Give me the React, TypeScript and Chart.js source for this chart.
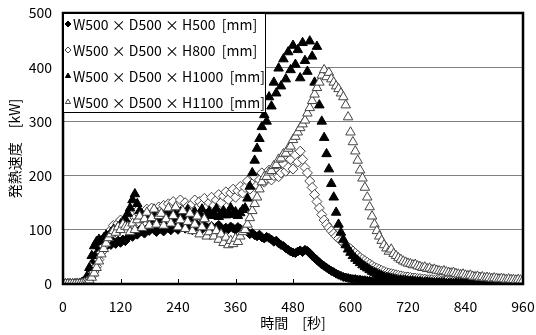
import React, { useEffect, useRef } from "react";
import { Chart, registerables } from "chart.js";

Chart.register(...registerables);

const FONT = '"Noto Sans CJK JP", "Noto Sans", sans-serif';

// time grid (seconds), 5 s sampling from 0 to 960
const TIME_STEP = 5;
const X_TICKS = [0, 120, 240, 360, 480, 600, 720, 840, 960];
const Y_TICKS = [0, 100, 200, 300, 400, 500];

const SERIES_LABELS = [
  "W500 × D500 × H500  [mm]",
  "W500 × D500 × H800  [mm]",
  "W500 × D500 × H1000  [mm]",
  "W500 × D500 × H1100  [mm]",
];

const H500 = [
  0, 0, 0, 0, 0, 0, 0, 1, 2,
  3, 6, 12, 25,
  42, 56, 66, 70,
  72, 69, 75, 72, 78, 74, 80, 76, 82, 79,
  85, 90, 87, 95, 91, 100, 97, 93, 102, 98, 105, 100, 96, 104,
  101, 97, 106, 103, 99, 108, 104, 100, 110, 105, 102, 107, 103, 99, 106, 110, 104, 101, 108, 105,
  103, 107, 100, 105, 109, 102, 98, 104, 101, 106, 103, 100, 105, 102, 99,
  100, 96, 92, 94, 90, 88, 91, 86, 84,
  87, 85, 82, 78, 80, 75, 72, 70, 66, 63, 60, 58,
  57, 60, 62, 59, 63, 61, 57, 52, 48, 44,
  40, 36, 33, 30, 27, 24, 22, 19, 17, 15, 13, 12, 11, 10,
  9, 9, 8, 8, 7, 7, 6, 6, 5, 5, 5, 4, 4, 4, 3, 3, 3, 3, 2, 2,
  2, 2, 2, 2, 2, 1, 2, 1, 1, 1, 1, 1, 1, 1, 1, 1, 1, 0, 1, 0,
  0, 1, 0, 0, 0, 0, 0, 0, 0, 0, 0, 0, 0, 0, 0, 0, 0, 0, 0, 0,
  0, 0, 0, 0, 0, 0, 0, 0, 0, 0, 0, 0,
];

const H800 = [
  0, 0, 0, 0, 0, 0, 0, 1, 2,
  3, 5, 8, 14,
  22, 32, 45, 58,
  70, 80, 92, 100, 108, 104, 112, 118, 110, 120,
  125, 118, 130, 122, 135, 128, 120, 132, 138, 126, 140, 133, 128, 142,
  136, 145, 130, 148, 140, 152, 135, 146, 155, 138, 150, 143, 136, 148, 155, 140, 152, 146, 158, 142,
  150, 160, 145, 155, 165, 150, 162, 170, 156, 168, 175, 160, 172, 180, 168,
  178, 190, 175, 185, 198, 182, 192, 205, 188,
  195, 210, 192, 200, 215, 198, 205, 222, 208, 215, 230, 212,
  238, 225, 245, 230, 215, 205, 190, 178, 165, 152,
  140, 128, 118, 110, 104, 98, 93, 88, 84, 80, 76, 72, 68, 65,
  61, 57, 53, 49, 46, 43, 40, 37, 34, 31, 29, 27, 25, 23, 21, 20, 19, 18, 17, 16,
  15, 14, 13, 13, 12, 11, 11, 10, 10, 9, 9, 8, 8, 8, 7, 7, 7, 6, 6, 6,
  5, 5, 5, 5, 4, 4, 4, 4, 4, 3, 3, 3, 3, 3, 3, 3, 2, 2, 2, 2,
  2, 2, 2, 2, 2, 2, 2, 1, 1, 1, 1, 1,
];

const H1000 = [
  0, 0, 0, 0, 0, 0, 1, 1, 3,
  6, 14, 30, 52,
  70, 78, 82, 80,
  85, 90, 88, 95, 100, 97, 105, 110, 114, 120,
  130, 140, 155, 166, 148, 135, 128, 122, 130, 125, 119, 127, 132, 124,
  118, 126, 131, 122, 128, 135, 120, 126, 132, 124, 129, 137, 121, 127, 133, 125, 130, 138, 122, 128,
  134, 126, 131, 139, 124, 129, 135, 127, 132, 140, 128, 133, 126, 131, 137,
  140, 158, 180, 205, 228, 250, 268, 290, 312,
  300, 345, 328, 372, 352, 398, 365, 415, 378, 428, 395, 440,
  405, 432, 380, 445, 412, 392, 448, 420, 372, 438,
  330, 300, 270, 240, 212, 185, 160, 132, 110, 95, 82, 72, 64, 58,
  52, 47, 43, 39, 35, 32, 29, 26, 23, 21, 19, 17, 15, 13, 12, 11, 10, 9, 8, 7,
  7, 6, 6, 5, 5, 5, 4, 4, 4, 3, 3, 3, 3, 2, 2, 2, 2, 2, 2, 1,
  1, 1, 1, 1, 1, 1, 1, 1, 1, 0, 1, 0, 0, 0, 0, 0, 0, 0, 0, 0,
  0, 0, 0, 0, 0, 0, 0, 0, 0, 0, 0, 0,
];

const H1100 = [
  0, 0, 0, 0, 0, 0, 0, 0, 1,
  2, 4, 7, 12,
  20, 30, 42, 55,
  65, 75, 85, 92, 98, 95, 105, 100, 110, 106,
  105, 96, 112, 100, 118, 125, 104, 120, 132, 108, 122, 138, 110, 126,
  130, 108, 120, 140, 112, 126, 142, 105, 118, 135, 102, 115, 130, 98, 110, 125, 92, 105, 120, 88,
  96, 105, 88, 98, 82, 92, 76, 86, 72, 80, 74, 84, 78, 88, 96,
  100, 110, 122, 135, 148, 160, 175, 188, 198,
  198, 206, 209, 218, 220, 230, 232, 240, 241, 250, 254, 266,
  272, 280, 288, 295, 302, 315, 325, 338, 350, 362,
  372, 385, 395, 382, 390, 378, 372, 365, 360, 352, 345, 330, 308, 280,
  262, 245, 228, 210, 195, 178, 160, 142, 125, 110, 98, 88, 80, 72, 66, 60, 64, 56, 52, 48,
  45, 42, 40, 38, 37, 35, 36, 33, 32, 30, 31, 28, 29, 26, 27, 25, 24, 23, 24, 22,
  21, 20, 21, 19, 18, 17, 18, 16, 15, 16, 14, 13, 14, 12, 13, 11, 12, 11, 10, 11,
  10, 9, 10, 9, 8, 9, 8, 8, 7, 8, 7, 7,
];

const toPoints = (vals: number[]) =>
  vals.map((v, i) => ({ x: i * TIME_STEP, y: v }));

type MarkerKind = "diamond" | "triangle";

function drawMarker(
  ctx: CanvasRenderingContext2D,
  kind: MarkerKind,
  x: number,
  y: number,
  r: number,
  fill: string,
  stroke: string
) {
  ctx.beginPath();
  if (kind === "diamond") {
    ctx.moveTo(x - r, y);
    ctx.lineTo(x, y - r);
    ctx.lineTo(x + r, y);
    ctx.lineTo(x, y + r);
  } else {
    const h = r * 1.5;
    const w = r * Math.sqrt(3);
    ctx.moveTo(x, y - r);
    ctx.lineTo(x + w / 2, y - r + h);
    ctx.lineTo(x - w / 2, y - r + h);
  }
  ctx.closePath();
  ctx.fillStyle = fill;
  ctx.fill();
  ctx.lineWidth = 1;
  ctx.strokeStyle = stroke;
  ctx.stroke();
}

const LEGEND_MARKERS: { kind: MarkerKind; fill: string; stroke: string }[] = [
  { kind: "diamond", fill: "#000", stroke: "#000" },
  { kind: "diamond", fill: "#fff", stroke: "#444" },
  { kind: "triangle", fill: "#000", stroke: "#000" },
  { kind: "triangle", fill: "#fff", stroke: "#444" },
];

const framePlugin = {
  id: "frameAndLegend",
  afterDraw(chart: any) {
    const { ctx, chartArea } = chart;
    const { left, right, top, bottom } = chartArea;
    const xs = chart.scales.x;
    ctx.save();
    // inward tick marks on x axis
    ctx.strokeStyle = "#000";
    ctx.lineWidth = 1;
    X_TICKS.forEach((t) => {
      const px = Math.round(xs.getPixelForValue(t)) + 0.5;
      ctx.beginPath();
      ctx.moveTo(px, bottom);
      ctx.lineTo(px, bottom - 5);
      ctx.stroke();
    });
    // frame
    ctx.lineWidth = 2.5;
    ctx.strokeStyle = "#000";
    ctx.beginPath();
    ctx.rect(left, top, right - left, bottom - top);
    ctx.stroke();

    // legend box
    const bx = left;
    const by = top;
    const bw = 202;
    const bh = 99;
    ctx.fillStyle = "#fff";
    ctx.fillRect(bx + 1, by + 1, bw - 1, bh - 1);
    ctx.lineWidth = 1;
    ctx.strokeStyle = "#000";
    ctx.strokeRect(bx + 0.5, by + 0.5, bw, bh);
    ctx.font = `14px ${FONT}`;
    ctx.textBaseline = "middle";
    ctx.textAlign = "left";
    SERIES_LABELS.forEach((lab, i) => {
      const cy = by + 11 + i * 26;
      const m = LEGEND_MARKERS[i];
      drawMarker(ctx, m.kind, bx + 5, cy, 3, m.fill, m.stroke);
      ctx.fillStyle = "#000";
      ctx.fillText(lab, bx + 10, cy + 1);
    });
    ctx.restore();
  },
};

export default function App() {
  const canvasRef = useRef<HTMLCanvasElement | null>(null);

  useEffect(() => {
    document.body.style.margin = "0";
    const canvas = canvasRef.current;
    if (!canvas) return;
    const chart = new Chart(canvas, {
      type: "scatter",
      data: {
        datasets: [
          {
            label: SERIES_LABELS[0],
            data: toPoints(H500),
            pointStyle: "rectRot",
            pointRadius: 4.5,
            backgroundColor: "#000",
            borderColor: "#000",
            borderWidth: 1,
            order: 4,
          },
          {
            label: SERIES_LABELS[1],
            data: toPoints(H800),
            pointStyle: "rectRot",
            pointRadius: 5,
            backgroundColor: "#fff",
            borderColor: "#444",
            borderWidth: 1,
            order: 3,
          },
          {
            label: SERIES_LABELS[2],
            data: toPoints(H1000),
            pointStyle: "triangle",
            pointRadius: 5.5,
            backgroundColor: "#000",
            borderColor: "#000",
            borderWidth: 1,
            order: 2,
          },
          {
            label: SERIES_LABELS[3],
            data: toPoints(H1100),
            pointStyle: "triangle",
            pointRadius: 5.5,
            backgroundColor: "#fff",
            borderColor: "#444",
            borderWidth: 1,
            order: 1,
          },
        ],
      },
      options: {
        animation: false,
        responsive: true,
        maintainAspectRatio: false,
        events: [],
        layout: { padding: { top: 13, right: 13, left: 0, bottom: 0 } },
        plugins: {
          legend: { display: false },
          tooltip: { enabled: false },
        },
        scales: {
          x: {
            type: "linear",
            min: 0,
            max: 960,
            afterBuildTicks: (s: any) => {
              s.ticks = X_TICKS.map((v) => ({ value: v }));
            },
            ticks: {
              color: "#000",
              font: { family: FONT, size: 14 },
              padding: 14,
              maxRotation: 0,
              autoSkip: false,
            },
            grid: { display: false, drawTicks: false },
            border: { display: false },
            title: {
              display: true,
              text: "時間　[秒]",
              color: "#000",
              font: { family: FONT, size: 14 },
              padding: { top: 0, bottom: 4 },
            },
            afterFit: (s: any) => {
              s.height = 51;
              s.paddingLeft = 0;
              s.paddingRight = 0;
            },
          },
          y: {
            min: 0,
            max: 500,
            afterBuildTicks: (s: any) => {
              s.ticks = Y_TICKS.map((v) => ({ value: v }));
            },
            ticks: {
              color: "#000",
              font: { family: FONT, size: 14 },
              padding: 11,
            },
            grid: { color: "#808080", lineWidth: 1, drawTicks: false },
            border: { display: false },
            title: {
              display: true,
              text: "発熱速度　[kW]",
              color: "#000",
              font: { family: FONT, size: 14 },
              padding: { top: 6, bottom: 0 },
            },
            afterFit: (s: any) => {
              s.width = 63;
              s.paddingTop = 0;
              s.paddingBottom = 0;
            },
          },
        },
      },
      plugins: [framePlugin],
    });
    return () => chart.destroy();
  }, []);

  return (
    <div style={{ position: "fixed", left: 0, top: 0, width: 536, height: 335, background: "#fff" }}>
      <canvas ref={canvasRef} />
    </div>
  );
}
